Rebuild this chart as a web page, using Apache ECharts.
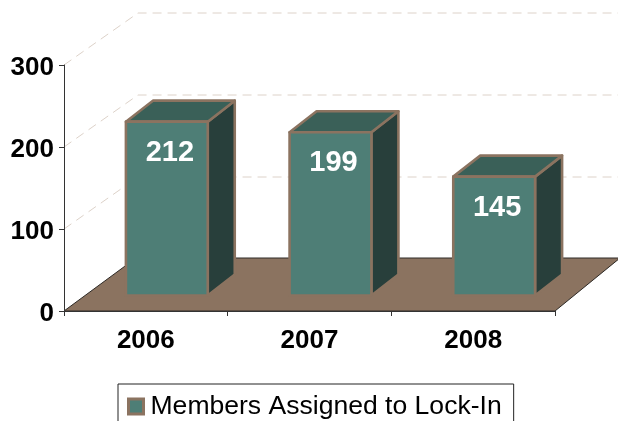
<!DOCTYPE html>
<html>
<head>
<meta charset="utf-8">
<style>html,body{margin:0;padding:0;background:#fff;overflow:hidden}#chart{width:618px;height:421px}</style>
<script src="https://cdn.jsdelivr.net/npm/echarts@6/dist/echarts.min.js"></script>
</head>
<body>
<div id="chart"></div>
<script>
// Members assigned to Lock-In per year, drawn as a pseudo-3D column chart.
const categories = ['2006', '2007', '2008'];
const memberCounts = [212, 199, 145];
const wallLevels = [100, 200, 300];
const seriesName = 'Members Assigned to Lock-In';

const FONT = '"Liberation Sans", Arial, sans-serif';
const BORDER = '#8B7360';
const FACE = '#4E7E76';
const TOP = '#3A6058';
const SIDE = '#283F3B';

// Oblique projection used for the box depth, the floor and the back wall.
const WALL_DX = 74, WALL_DY = 52;
const FLOOR_DX = 72, FLOOR_DY = 53;
const BAR_DX = 27, BAR_DY = 21;
const BAR_SHIFT_X = 21, BAR_SHIFT_Y = 15.5, BAR_RATIO = 0.5;

function renderWall(params, api) {
  const rect = params.coordSys;
  const y = api.coord([0, api.value(1)])[1];
  return {
    type: 'polyline',
    silent: true,
    shape: { points: [[rect.x, y], [rect.x + WALL_DX, y - WALL_DY], [618, y - WALL_DY]] },
    style: { fill: null, stroke: '#DDD2C9', lineWidth: 1, lineDash: [9, 6] }
  };
}

function renderFloor(params) {
  const r = params.coordSys;
  const bottom = r.y + r.height, right = r.x + r.width;
  return {
    type: 'polygon',
    silent: true,
    shape: { points: [
      [r.x, bottom],
      [r.x + FLOOR_DX, bottom - FLOOR_DY],
      [620, bottom - FLOOR_DY],
      [right, bottom]
    ] },
    style: { fill: BORDER, stroke: '#2E2A26', lineWidth: 1 }
  };
}

function renderBar(params, api) {
  const top = api.coord([api.value(0), api.value(1)]);
  const base = api.coord([api.value(0), 0]);
  const w = api.size([1, 0])[0] * BAR_RATIO;
  const l = top[0] + BAR_SHIFT_X - w / 2, r = l + w;
  const t = top[1] - BAR_SHIFT_Y, b = base[1] - BAR_SHIFT_Y;
  const edge = { stroke: BORDER, lineWidth: 2.6, lineJoin: 'round' };
  return {
    type: 'group',
    children: [
      { type: 'polygon', shape: { points: [[r, t], [r + BAR_DX, t - BAR_DY], [r + BAR_DX, b - BAR_DY], [r, b]] },
        style: { fill: SIDE, ...edge } },
      { type: 'polygon', shape: { points: [[l, t], [l + BAR_DX, t - BAR_DY], [r + BAR_DX, t - BAR_DY], [r, t]] },
        style: { fill: TOP, ...edge } },
      { type: 'rect', shape: { x: l, y: t, width: w, height: b - t },
        style: { fill: FACE, ...edge } },
      { type: 'text',
        style: { x: (l + r) / 2 + 3, y: t + 31, text: String(api.value(1)), fill: '#fff',
                 font: 'bold 29px ' + FONT, align: 'center', verticalAlign: 'middle' } }
    ]
  };
}

const chart = echarts.init(document.getElementById('chart'), null, { renderer: 'canvas' });
chart.setOption({
  animation: false,
  backgroundColor: '#fff',
  grid: { left: 64, right: 63, top: 65, bottom: 110 },
  legend: {
    data: [{ name: seriesName, icon: 'rect' }],
    left: 118, top: 384,
    padding: [9, 12, 8, 9],
    borderColor: '#222', borderWidth: 1,
    itemWidth: 15, itemHeight: 15, itemGap: 0,
    itemStyle: { color: FACE, borderColor: BORDER, borderWidth: 3 },
    textStyle: { fontFamily: FONT, fontSize: 26.55, color: '#000', padding: [0, 0, 0, 2] }
  },
  xAxis: {
    type: 'category', data: categories, z: 5,
    axisLine: { lineStyle: { color: '#333', width: 1 } },
    axisTick: { show: true, length: 5, lineStyle: { color: '#333' } },
    axisLabel: { fontFamily: FONT, fontSize: 26, fontWeight: 'bold', color: '#000', margin: 17 }
  },
  yAxis: {
    type: 'value', min: 0, max: 300, interval: 100, z: 5,
    splitLine: { show: false },
    axisLine: { show: true, lineStyle: { color: '#333', width: 1 } },
    axisTick: { show: true, length: 5, lineStyle: { color: '#333' } },
    axisLabel: { fontFamily: FONT, fontSize: 26, fontWeight: 'bold', color: '#000', margin: 10,
                 verticalAlign: 'top', lineHeight: 6 }
  },
  series: [
    { type: 'custom', name: 'wall', z: 1, silent: true, renderItem: renderWall,
      data: wallLevels.map(v => [0, v]), encode: { x: 0, y: 1 } },
    { type: 'custom', name: 'floor', z: 2, silent: true, renderItem: renderFloor,
      data: [[0, 0]], encode: { x: 0, y: 1 } },
    { type: 'custom', name: seriesName, z: 3, renderItem: renderBar,
      itemStyle: { color: FACE, borderColor: BORDER, borderWidth: 3 },
      data: memberCounts.map((v, i) => [i, v]), encode: { x: 0, y: 1 } }
  ]
});
</script>
</body>
</html>
